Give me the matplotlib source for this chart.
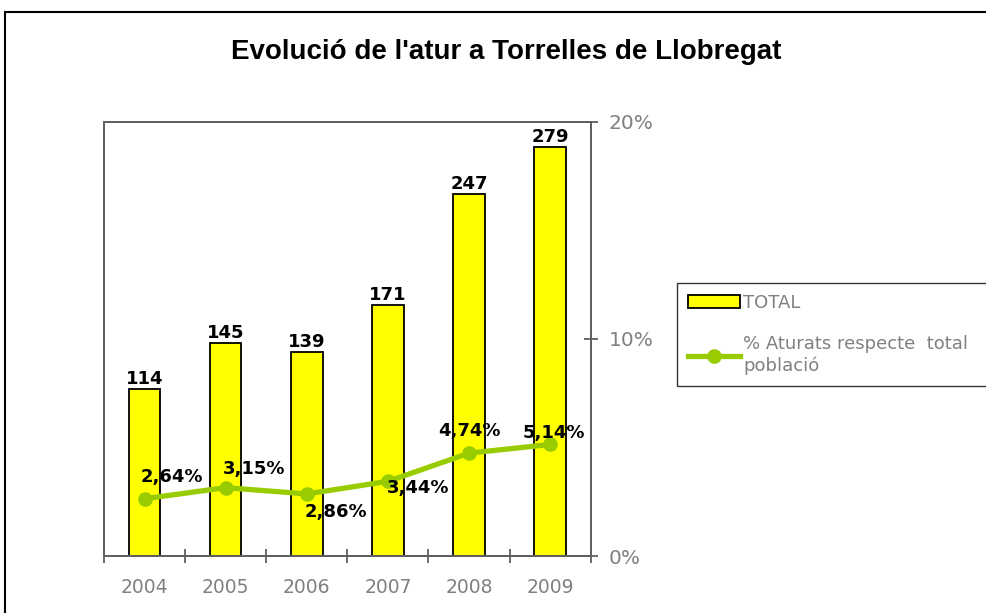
import matplotlib
matplotlib.use('Agg')
import matplotlib.pyplot as plt
from matplotlib.patches import Rectangle
from matplotlib.ticker import FixedLocator, FuncFormatter

########## DATA ###############
years = ['2004', '2005', '2006', '2007', '2008', '2009']
total = [114, 145, 139, 171, 247, 279]
pct = [2.64, 3.15, 2.86, 3.44, 4.74, 5.14]
pct_labels = ['2,64%', '3,15%', '2,86%', '3,44%', '4,74%', '5,14%']
# label offsets (pixels) for the percent labels
pct_offsets = [(27, 22), (28, 19), (29, -18), (30, -7), (0, 22), (4, 11)]

W, H = 986, 613
fig = plt.figure(figsize=(W/100, H/100), dpi=100)
fig.patch.set_facecolor('white')

# outer chart frame (runs off the right/bottom of the picture)
fig.patches.append(Rectangle((5/W, -0.1), 2.0, 1 - 12/H + 0.1, transform=fig.transFigure,
                             fill=False, edgecolor='black', linewidth=1.5))

fig.text(506/W, 1 - 52/H, "Evolució de l'atur a Torrelles de Llobregat",
         ha='center', va='center', fontsize=20, fontweight='bold',
         family='Liberation Sans')

ax = fig.add_axes([104/W, 1 - 556/H, (590.7 - 104)/W, (556 - 122)/H])
x = list(range(len(years)))
bars = ax.bar(x, total, width=0.39, color='#FFFF00', edgecolor='black', linewidth=1.3,
              label='TOTAL', zorder=2)
ax.set_ylim(0, 296)
ax.set_xlim(-0.5, len(years) - 0.5)
for xi, v in zip(x, total):
    ax.annotate(str(v), (xi, v), xytext=(0, 1), textcoords='offset pixels',
                ha='center', va='bottom', fontsize=13, fontweight='bold', family='DejaVu Sans')

gray = '#606060'
for s in ['left', 'top', 'right', 'bottom']:
    ax.spines[s].set_color(gray)
    ax.spines[s].set_linewidth(1.3)
ax.set_yticks([])
ax.xaxis.set_major_locator(FixedLocator([i - 0.5 for i in range(len(years) + 1)]))
ax.xaxis.set_minor_locator(FixedLocator(x))
ax.xaxis.set_major_formatter(FuncFormatter(lambda v, p: ''))
ax.set_xticks(x, years, minor=True)
ax.tick_params(axis='x', which='major', direction='inout', length=10, width=1.3, color=gray)
ax.tick_params(axis='x', which='minor', length=0, pad=16, labelsize=13.5, labelcolor='#808080')

ax2 = ax.twinx()
line, = ax2.plot(x, pct, color='#99CC00', linewidth=3.8, marker='o', markersize=9.5,
                 label='% Aturats respecte  total\npoblació', zorder=3)
ax2.set_ylim(0, 20)
ax2.set_yticks([0, 10, 20])
ax2.yaxis.set_major_formatter(FuncFormatter(lambda v, p: '%d%%' % v))
ax2.tick_params(axis='y', direction='inout', length=10, width=1.3, color=gray,
                labelsize=14.5, labelcolor='#808080', pad=8)
for s in ['left', 'top', 'right', 'bottom']:
    ax2.spines[s].set_color(gray)
    ax2.spines[s].set_linewidth(1.3)
for xi, v, lab, off in zip(x, pct, pct_labels, pct_offsets):
    ax2.annotate(lab, (xi, v), xytext=off, textcoords='offset pixels',
                 ha='center', va='center', fontsize=13, fontweight='bold',
                 family='DejaVu Sans', zorder=5)

leg = fig.legend([bars, line], ['TOTAL', '% Aturats respecte  total\npoblació'],
                 loc='upper left', bbox_to_anchor=(677/W, 0, 400/W, 1 - 283/H),
                 mode='expand',
                 frameon=True, fancybox=False, edgecolor='black', fontsize=13,
                 labelspacing=1.3, handlelength=2.9, handletextpad=0.15,
                 borderpad=0.6, borderaxespad=0)
leg.get_frame().set_linewidth(1.0)
for t in leg.get_texts():
    t.set_color('#808080')

fig.savefig('out.png', dpi=100)
